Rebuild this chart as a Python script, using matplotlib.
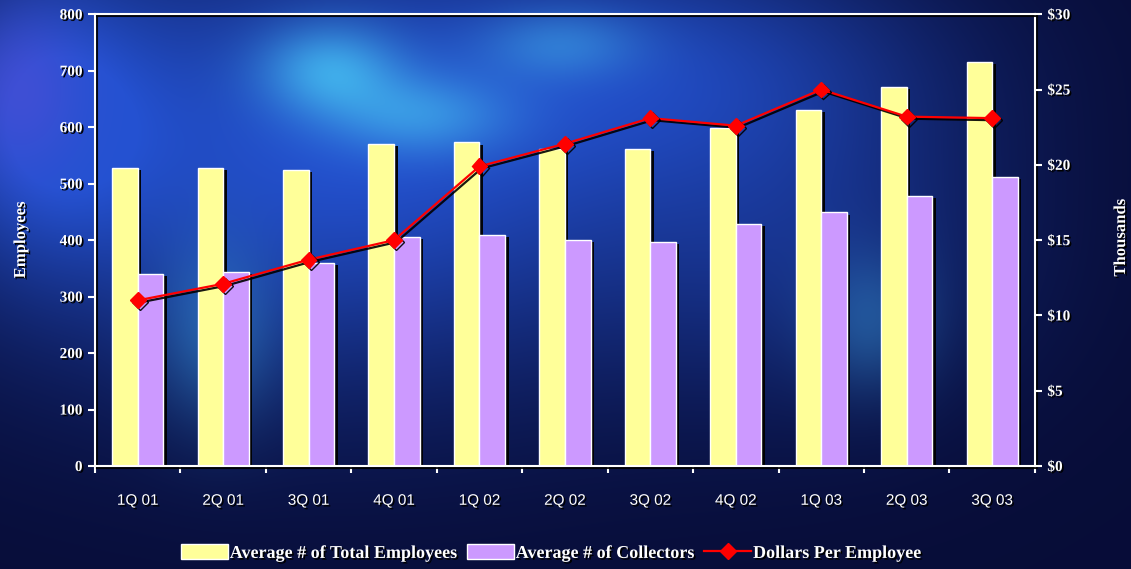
import numpy as np
import matplotlib.pyplot as plt
import matplotlib.patheffects as pe
from matplotlib.lines import Line2D
from matplotlib.patches import Patch

quarters = ["1Q 01", "2Q 01", "3Q 01", "4Q 01", "1Q 02", "2Q 02",
            "3Q 02", "4Q 02", "1Q 03", "2Q 03", "3Q 03"]
total_employees = [527, 527, 524, 570, 573, 561, 561, 598, 630, 672, 715]
collectors = [340, 343, 359, 405, 409, 400, 396, 428, 449, 478, 512]
dollars_per_employee = [11.0, 12.1, 13.7, 15.0, 19.9, 21.4, 23.1, 22.6, 25.0, 23.2, 23.1]

left_ticks = list(range(0, 801, 100))
right_ticks = list(range(0, 31, 5))
right_labels = ["$%d" % v for v in right_ticks]

YELLOW = "#FFFF99"
LAVENDER = "#CC99FF"
RED = "#FF0000"

serif = ["Liberation Serif", "DejaVu Serif"]
sans = ["Liberation Sans", "DejaVu Sans"]
shadow_txt = [pe.withSimplePatchShadow(offset=(1.2, -1.2), shadow_rgbFace="black", alpha=1)]
shadow_bar = [pe.SimplePatchShadow(offset=(2.5, -1.5), shadow_rgbFace="black", alpha=0.95), pe.Normal()]
shadow_line = [pe.SimpleLineShadow(offset=(1.5, -1.5), shadow_color="black", alpha=0.9), pe.Normal()]

fig = plt.figure(figsize=(11.31, 5.69), dpi=100)

# slide background: dark navy with a bright blue cloudy area upper left
H, W = 569, 1131
yy, xx = np.mgrid[0:H, 0:W].astype(float)


def blob(cx, cy, sx, sy):
    return np.exp(-(((xx - cx) / sx) ** 2 + ((yy - cy) / sy) ** 2))


glow = (0.95 * blob(330, 150, 380, 230) + 0.45 * blob(700, 60, 250, 120)
        + 0.35 * blob(820, 250, 200, 160) + 0.6 * blob(40, 110, 110, 150))
glow = np.clip(glow, 0, 1)
cyan = np.clip(0.9 * blob(330, 70, 70, 45) + 0.7 * blob(420, 115, 90, 40)
               + 0.5 * blob(560, 45, 80, 35) + 0.4 * blob(215, 330, 60, 90)
               + 0.35 * blob(870, 320, 60, 70), 0, 1)
violet = np.clip(0.5 * blob(20, 90, 60, 80), 0, 1)
navy = np.array([0.03, 0.05, 0.22])
blue = np.array([0.14, 0.32, 0.82])
light = np.array([0.25, 0.68, 0.92])
purple = np.array([0.35, 0.30, 0.85])
img = navy + glow[..., None] * (blue - navy)
img = img + cyan[..., None] * (light - img)
img = img + violet[..., None] * (purple - img)
img = np.clip(img, 0, 1)

bg = fig.add_axes([0, 0, 1, 1], zorder=-5)
bg.imshow(img, aspect="auto", interpolation="bilinear")
bg.axis("off")

ax = fig.add_axes([0.084, 0.181, 0.831, 0.794])
ax.set_facecolor("none")
x = np.arange(len(quarters))
bw = 0.3
ax.bar(x - bw / 2, total_employees, bw, color=YELLOW, edgecolor="white",
       linewidth=1, path_effects=shadow_bar, zorder=2)
ax.bar(x + bw / 2, collectors, bw, color=LAVENDER, edgecolor="white",
       linewidth=1, path_effects=shadow_bar, zorder=2)
ax.set_xlim(-0.5, len(quarters) - 0.5)
ax.set_ylim(0, 800)
ax.set_yticks(left_ticks)
ax.set_yticklabels([str(v) for v in left_ticks], fontfamily=serif,
                   fontweight="bold", fontsize=11, color="white")
ax.set_xticks(x)
ax.set_xticklabels(quarters, fontfamily=sans, fontsize=11, color="white")
ax.set_xticks(np.arange(-0.5, len(quarters)), minor=True)
ax.tick_params(axis="x", which="major", length=0, pad=20)
ax.tick_params(axis="x", which="minor", length=5, width=1.5, color="white")
ax.tick_params(axis="y", length=5, width=1.5, color="white", pad=4)
for lab in ax.get_xticklabels() + ax.get_yticklabels():
    lab.set_path_effects(shadow_txt)
for side in ["left", "bottom", "top", "right"]:
    ax.spines[side].set_color("white")
    ax.spines[side].set_linewidth(1.5)
    ax.spines[side].set_path_effects(shadow_line)
ax.set_ylabel("Employees", fontfamily=serif, fontweight="bold", fontsize=12,
              color="white", labelpad=22, path_effects=shadow_txt)

ax2 = ax.twinx()
ax2.plot(x, dollars_per_employee, color=RED, linewidth=1.6, marker="D",
         markersize=8, markeredgecolor=RED, path_effects=shadow_line, zorder=3)
ax2.set_ylim(0, 30)
ax2.set_yticks(right_ticks)
ax2.set_yticklabels(right_labels, fontfamily=serif, fontweight="bold",
                    fontsize=11, color="white")
ax2.tick_params(axis="y", length=5, width=1.5, color="white", pad=4)
for lab in ax2.get_yticklabels():
    lab.set_path_effects(shadow_txt)
for side in ["left", "bottom", "top", "right"]:
    ax2.spines[side].set_visible(False)

fig.text(1121 / 1131, 1 - 238 / 569, "Thousands", rotation=90, ha="center",
         va="center", fontfamily=serif, fontweight="bold", fontsize=12,
         color="white", path_effects=shadow_txt)

handles = [
    Patch(facecolor=YELLOW, edgecolor="white", linewidth=1),
    Patch(facecolor=LAVENDER, edgecolor="white", linewidth=1),
    Line2D([], [], color=RED, marker="D", markersize=8, linewidth=1.6),
]
labels = ["Average # of Total Employees", "Average # of Collectors",
          "Dollars Per Employee"]
leg = fig.legend(handles, labels, loc="center", bbox_to_anchor=(0.487, 0.028),
                 ncol=3, frameon=False, handlelength=2.6, handleheight=0.9,
                 handletextpad=0.1, columnspacing=0.6,
                 prop={"family": serif, "weight": "bold", "size": 13})
for t in leg.get_texts():
    t.set_color("white")
    t.set_path_effects(shadow_txt)

fig.savefig("out.png", dpi=100)
